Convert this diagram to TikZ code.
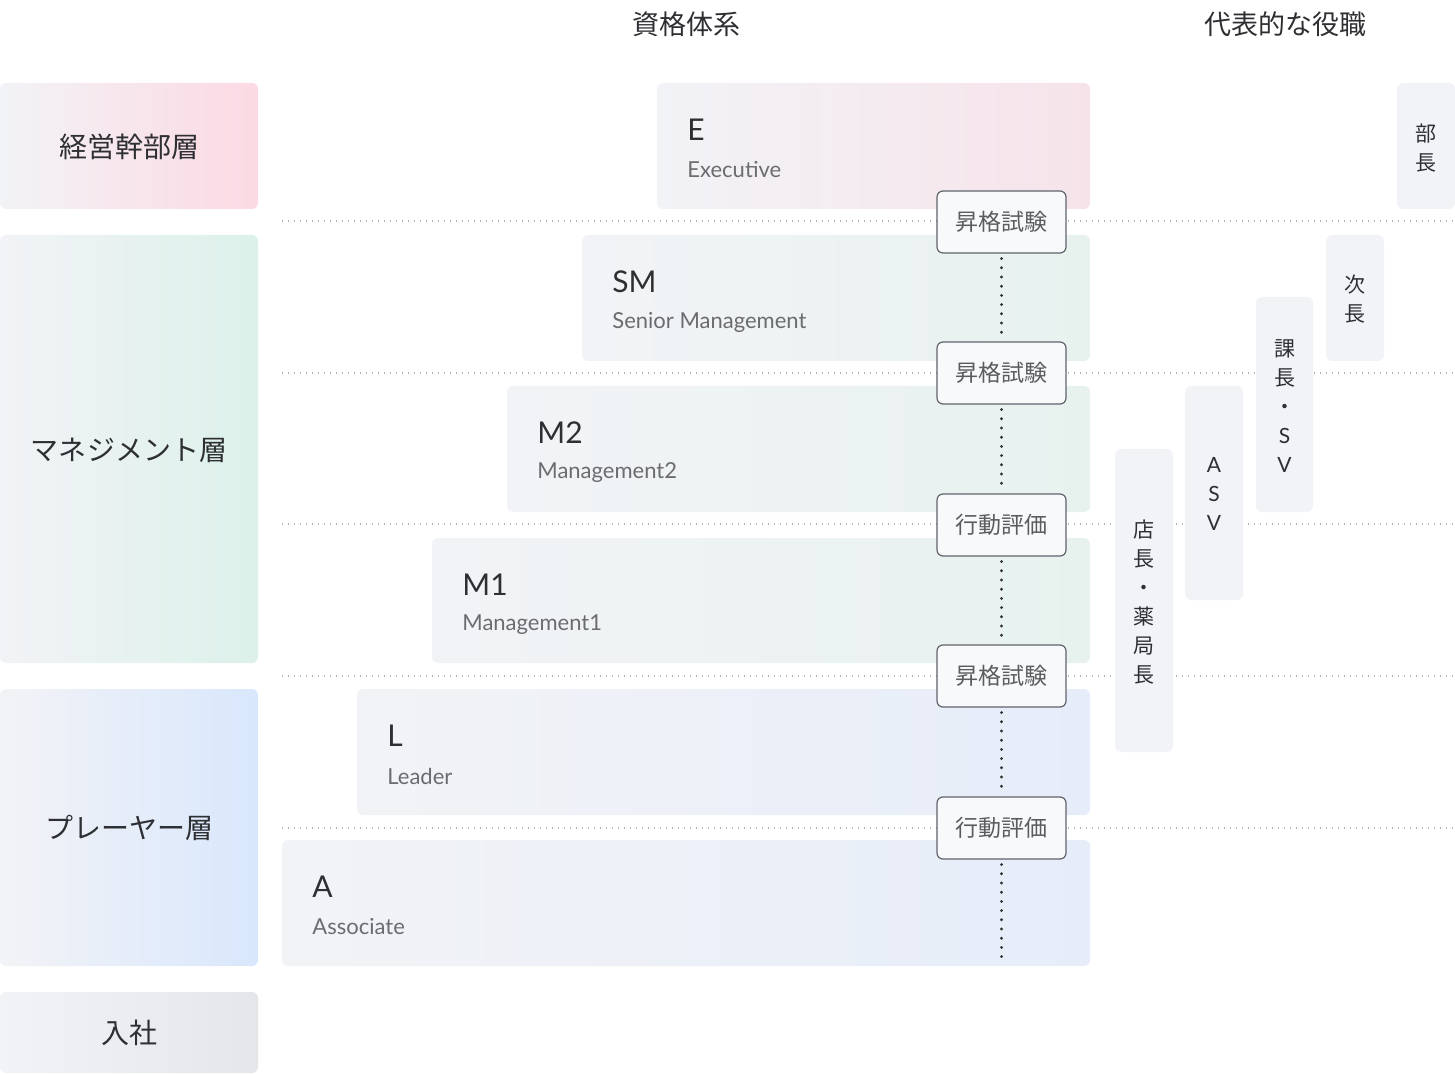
\documentclass[tikz,border=0pt]{standalone}
\usepackage{fontspec}
\setmainfont{Noto Sans CJK JP}
\newfontfamily\latinfont{Lato}
\usepackage{tikz}
\definecolor{basegray}{HTML}{F2F3F6}
\definecolor{pinkL}{HTML}{FCD9E3}
\definecolor{mintL}{HTML}{DCF1EA}
\definecolor{blueL}{HTML}{D9E7FC}
\definecolor{grayL}{HTML}{E5E6EA}
\definecolor{pinkG}{HTML}{F6E3EA}
\definecolor{mintG}{HTML}{E7F2EF}
\definecolor{blueG}{HTML}{E6EDF9}
\definecolor{textdark}{HTML}{2E2F33}
\definecolor{textsub}{HTML}{6A6C70}
\definecolor{badgeline}{HTML}{5F636B}
\definecolor{badgefill}{HTML}{F8F9FB}
\definecolor{sepdot}{HTML}{B3B6BC}
\tikzset{
  sepline/.style={sepdot, line width=0.6pt, dash pattern=on 0.6pt off 2.4pt},
  stepline/.style={black!80, line width=1.6pt, line cap=round, dash pattern=on 0pt off 4.6pt, shorten >=2pt, shorten <=2.5pt},
  layertext/.style={text=textdark, font=\fontsize{14}{16}\selectfont},
  headtext/.style={text=textdark, font=\fontsize{13.5}{16}\selectfont},
  gradetext/.style={anchor=west, inner sep=0, text=textdark, font=\latinfont\fontsize{15}{18}\selectfont},
  gradesub/.style={anchor=west, inner sep=0, text=textsub, font=\latinfont\fontsize{11}{13}\selectfont},
  badge/.style={draw=badgeline, fill=badgefill, line width=0.6pt, rounded corners=3pt,
    minimum width=64.5pt, minimum height=31pt, inner sep=0, text=textsub!85!black,
    font=\fontsize{11.5}{13}\selectfont},
  roletext/.style={align=center, inner sep=0, text=textdark, font=\fontsize{10.5}{14.5}\selectfont},
}

\begin{document}
\begin{tikzpicture}[x=0.5pt, y=-0.5pt]
  \useasboundingbox (0,0) rectangle (1455,1074);

  % headers
  \node[headtext] (hgrade) at (686,24) {資格体系};
  \node[headtext] (hrole) at (1285,24) {代表的な役職};

  % layers
  \shade[left color=basegray, right color=pinkL, rounded corners=3pt] (0,83) rectangle (258,209);
  \shade[left color=basegray, right color=mintL, rounded corners=3pt] (0,235) rectangle (258,663);
  \shade[left color=basegray, right color=blueL, rounded corners=3pt] (0,689) rectangle (258,966);
  \shade[left color=basegray, right color=grayL, rounded corners=3pt] (0,992) rectangle (258,1073);
  \node[layertext] (exec) at (129,147) {経営幹部層};
  \node[layertext] (mgmt) at (129,450) {マネジメント層};
  \node[layertext] (play) at (129,828) {プレーヤー層};
  \node[layertext] (join) at (129,1033) {入社};

  \foreach \y in {221,373,524,676,828} {
    \draw[sepline] (282,\y) -- (1455,\y);
  }

  % grades
  \shade[left color=basegray, right color=pinkG, rounded corners=3pt] (657,83) rectangle (1090,209);
  \shade[left color=basegray, right color=mintG, rounded corners=3pt] (582,235) rectangle (1090,361);
  \shade[left color=basegray, right color=mintG, rounded corners=3pt] (507,386) rectangle (1090,512);
  \shade[left color=basegray, right color=mintG, rounded corners=3pt] (432,538) rectangle (1090,663);
  \shade[left color=basegray, right color=blueG, rounded corners=3pt] (357,689) rectangle (1090,815);
  \shade[left color=basegray, right color=blueG, rounded corners=3pt] (282,840) rectangle (1090,966);
  \foreach \n/\x/\y/\g/\t in {gE/687/83/E/Executive, gSM/612/235/SM/Senior Management,
      gMtwo/537/386/M2/Management2, gMone/462/538/M1/Management1,
      gL/387/689/L/Leader, gA/312/840/A/Associate} {
    \node[gradetext] (\n) at (\x,\y+47) {\g};
    \node[gradesub] (\n sub) at (\x,\y+87) {\t};
  }

  % roles
  \fill[basegray, rounded corners=3pt] (1397,83) rectangle (1455,209);
  \fill[basegray, rounded corners=3pt] (1326,235) rectangle (1384,361);
  \fill[basegray, rounded corners=3pt] (1256,297) rectangle (1313,512);
  \fill[basegray, rounded corners=3pt] (1185,386) rectangle (1243,600);
  \fill[basegray, rounded corners=3pt] (1115,449) rectangle (1173,752);
  \node[roletext] (bucho) at (1426,148) {部\\長};
  \node[roletext] (jicho) at (1355,299) {次\\長};
  \node[roletext] (kacho) at (1284.5,406) {課\\長\\・\\{\latinfont S}\\{\latinfont V}};
  \node[roletext] (asv) at (1214,494) {{\latinfont A}\\{\latinfont S}\\{\latinfont V}};
  \node[roletext] (tencho) at (1144,602) {店\\長\\・\\薬\\局\\長};

  % steps
  \node[badge] (b1) at (1001.5,222) {昇格試験};
  \node[badge] (b2) at (1001.5,373) {昇格試験};
  \node[badge] (b3) at (1001.5,525) {行動評価};
  \node[badge] (b4) at (1001.5,676) {昇格試験};
  \node[badge] (b5) at (1001.5,828) {行動評価};
  \coordinate (bend) at (1001.5,962);
  \draw[stepline] (b1) -- (b2);
  \draw[stepline] (b2) -- (b3);
  \draw[stepline] (b3) -- (b4);
  \draw[stepline] (b4) -- (b5);
  \draw[stepline, shorten >=0pt] (b5) -- (bend);
\end{tikzpicture}
\end{document}
